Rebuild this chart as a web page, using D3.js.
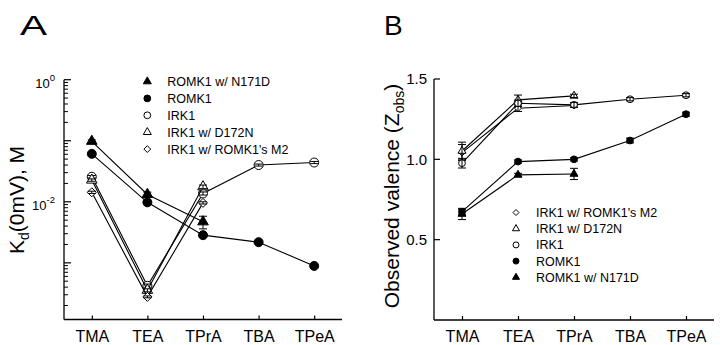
<!DOCTYPE html>
<html>
<head>
<meta charset="utf-8">
<script src="https://cdnjs.cloudflare.com/ajax/libs/d3/7.8.5/d3.min.js"></script>
<style>
  body { margin: 0; background: #fff; }
  svg text { font-family: Arial, "Liberation Sans", sans-serif; fill: #000; }
</style>
</head>
<body>
<div id="chart"></div>
<script>
// blockers along the x axis
var categories = ["TMA", "TEA", "TPrA", "TBA", "TPeA"];

// panel A: Kd(0mV) in M
var kdN171D = [0.098, 0.0132, 0.0047, null, null];
var kdROMK1 = [0.061, 0.0098, 0.00284, 0.00218, 0.00089];
var kdIRK1  = [0.0257, 0.00042, 0.0137, 0.040, 0.044];
var kdD172N = [0.0227, 0.000355, 0.0176, null, null];
var kdM2    = [0.0143, 0.000277, 0.0096, null, null];
var kdN171DErr = [0.005, 0.0012, 0.0011, null, null];
var kdROMK1Err = [0.002, 0.0007, 0.0002, 0.0001, 0.00004];
var kdIRK1Err  = [0.0012, 0.00003, 0.0008, 0.0015, 0.0018];
var kdD172NErr = [0.0010, 0.00002, 0.0012, null, null];
var kdM2Err    = [0.0006, 0.00001, 0.0004, null, null];

// panel B: observed valence
var zM2    = [1.042, 1.318, 1.335, null, null];
var zD172N = [1.052, 1.370, 1.395, null, null];
var zIRK1  = [0.976, 1.349, 1.339, 1.374, 1.399];
var zROMK1 = [0.674, 0.986, 1.000, 1.117, 1.281];
var zN171D = [0.660, 0.903, 0.909, null, null];
var zM2Err    = [0.050, 0.020, 0.010, null, null];
var zD172NErr = [0.055, 0.030, 0.010, null, null];
var zIRK1Err  = [0.030, 0.020, 0.015, 0.010, 0.010];
var zROMK1Err = [0.015, 0.010, 0.010, 0.015, 0.012];
var zN171DErr = [0.035, 0.010, 0.035, null, null];

var kdTicksMajor = [1, 0.1, 0.01, 0.001];
var kdTickLabels = [{v: 1, exp: "0"}, {v: 0.01, exp: "-2"}];
var zTicks = [0.5, 1.0, 1.5];

var svg = d3.select("#chart").append("svg")
    .attr("width", 720)
    .attr("height", 345);

// marker shapes
function markerPath(kind, size) {
  if (kind == "circle") return d3.symbol(d3.symbolCircle, size * size * Math.PI)();
  if (kind == "triangle") return d3.symbol(d3.symbolTriangle, size * size * 2.4)();
  // diamond = square turned 45 degrees
  var s = size;
  return "M0," + (-s) + "L" + s + ",0L0," + s + "L" + (-s) + ",0Z";
}

function drawPanel(cfg) {
  var g = svg.append("g");
  var x = d3.scalePoint().domain(categories).range([cfg.x0, cfg.x1]).padding(0.5);
  var y = cfg.y;

  // axes lines
  g.append("line").attr("x1", cfg.x0).attr("x2", cfg.x0)
    .attr("y1", cfg.yTop).attr("y2", cfg.yBot)
    .attr("stroke", "#000").attr("stroke-width", 1.3);
  g.append("line").attr("x1", cfg.x0).attr("x2", cfg.x1)
    .attr("y1", cfg.yBot).attr("y2", cfg.yBot)
    .attr("stroke", "#000").attr("stroke-width", 1.3);

  // x ticks point inward
  var xAxis = g.append("g")
    .attr("transform", "translate(0," + cfg.yBot + ")")
    .call(d3.axisBottom(x).tickSize(-4).tickSizeOuter(0).tickPadding(10));
  xAxis.select(".domain").remove();
  xAxis.selectAll("line").attr("stroke-width", 1.2);
  xAxis.selectAll("text").attr("font-size", 16).attr("dy", "0.75em")
    .style("font-family", "Arial, 'Liberation Sans', sans-serif");

  cfg.yAxis(g);

  // series
  cfg.series.forEach(function(s) {
    var pts = s.values.map(function(v, i) {
      return {cat: categories[i], v: v, e: s.err[i]};
    }).filter(function(d) { return d.v != null; });

    g.append("path")
      .datum(pts)
      .attr("fill", "none")
      .attr("stroke", "#000")
      .attr("stroke-width", 1.1)
      .attr("d", d3.line().x(function(d) { return x(d.cat); })
                          .y(function(d) { return y(d.v); }));

    g.selectAll(null).data(pts).enter().append("path")
      .attr("transform", function(d) { return "translate(" + x(d.cat) + "," + y(d.v) + ")"; })
      .attr("d", markerPath(s.shape, cfg.markSize))
      .attr("fill", s.filled ? "#000" : "#fff")
      .attr("stroke", "#000")
      .attr("stroke-width", 1);

    // error bars on top of the markers
    var eb = g.selectAll(null).data(pts.filter(function(d) { return d.e; })).enter().append("g")
      .attr("stroke", "#000").attr("stroke-width", 1);
    eb.append("line")
      .attr("x1", function(d) { return x(d.cat); }).attr("x2", function(d) { return x(d.cat); })
      .attr("y1", function(d) { return y(d.v + d.e); }).attr("y2", function(d) { return y(d.v - d.e); });
    [1, -1].forEach(function(sign) {
      eb.append("line")
        .attr("x1", function(d) { return x(d.cat) - 4; }).attr("x2", function(d) { return x(d.cat) + 4; })
        .attr("y1", function(d) { return y(d.v + sign * d.e); })
        .attr("y2", function(d) { return y(d.v + sign * d.e); });
    });
  });

  // legend
  var leg = g.append("g");
  cfg.legendOrder.forEach(function(s, i) {
    var ly = cfg.legY + i * cfg.legStep;
    leg.append("path")
      .attr("transform", "translate(" + cfg.legX + "," + ly + ")")
      .attr("d", markerPath(s.shape, cfg.legMark))
      .attr("fill", s.filled ? "#000" : "#fff")
      .attr("stroke", "#000").attr("stroke-width", 1);
    leg.append("text")
      .attr("x", cfg.legX + 20).attr("y", ly)
      .attr("dy", "0.36em")
      .attr("font-size", 12.5)
      .text(s.name);
  });

  // panel letter
  g.append("text")
    .attr("transform", "translate(" + cfg.letterX + ",35) scale(" + cfg.letterScale + ",1)")
    .attr("font-size", 28).text(cfg.letter);
}

// ---- panel A (log scale)
var yA = d3.scaleLog().domain([1.18e-4, 1]).range([319.5, 79.7]);
var seriesA = {
  n171d: {name: "ROMK1 w/ N171D", shape: "triangle", filled: true, values: kdN171D, err: kdN171DErr},
  romk1: {name: "ROMK1", shape: "circle", filled: true, values: kdROMK1, err: kdROMK1Err},
  irk1:  {name: "IRK1", shape: "circle", filled: false, values: kdIRK1, err: kdIRK1Err},
  d172n: {name: "IRK1 w/ D172N", shape: "triangle", filled: false, values: kdD172N, err: kdD172NErr},
  m2:    {name: "IRK1 w/ ROMK1's M2", shape: "diamond", filled: false, values: kdM2, err: kdM2Err}
};

drawPanel({
  letter: "A", letterX: 20, letterScale: 1.45,
  x0: 64, x1: 342, yTop: 79.7, yBot: 319.5,
  y: yA, markSize: 4.5,
  series: [seriesA.irk1, seriesA.d172n, seriesA.m2, seriesA.romk1, seriesA.n171d],
  legendOrder: [seriesA.n171d, seriesA.romk1, seriesA.irk1, seriesA.d172n, seriesA.m2],
  legX: 147.3, legY: 81.5, legStep: 16.9, legMark: 3.4,
  yAxis: function(g) {
    var minor = [];
    [1e-4, 1e-3, 1e-2, 1e-1].forEach(function(d) {
      for (var k = 2; k <= 9; k++) minor.push(d * k);
    });
    minor = minor.filter(function(v) { return v >= yA.domain()[0]; });
    g.selectAll(null).data(minor).enter().append("line")
      .attr("x1", 64).attr("x2", 68)
      .attr("y1", function(d) { return yA(d); }).attr("y2", function(d) { return yA(d); })
      .attr("stroke", "#000").attr("stroke-width", 1);
    g.selectAll(null).data(kdTicksMajor).enter().append("line")
      .attr("x1", 64).attr("x2", 71)
      .attr("y1", function(d) { return yA(d); }).attr("y2", function(d) { return yA(d); })
      .attr("stroke", "#000").attr("stroke-width", 1.2);
    var lab = g.selectAll(null).data(kdTickLabels).enter().append("text")
      .attr("x", 55).attr("y", function(d) { return yA(d.v) + 8; })
      .attr("text-anchor", "end").attr("font-size", 13);
    lab.append("tspan").text("10");
    lab.append("tspan").attr("dy", -7).attr("font-size", 9.5).text(function(d) { return d.exp; });

    var t = g.append("text")
      .attr("transform", "translate(24,200) rotate(-90)")
      .attr("text-anchor", "middle").attr("font-size", 21);
    t.append("tspan").text("K");
    t.append("tspan").attr("dy", 5).attr("font-size", 14).text("d");
    t.append("tspan").attr("dy", -5).text("(0mV), M");
  }
});

// ---- panel B (linear)
var yB = d3.scaleLinear().domain([0, 1.5]).range([320, 79]);
var seriesB = {
  m2:    {name: "IRK1 w/ ROMK1's M2", shape: "diamond", filled: false, values: zM2, err: zM2Err},
  d172n: {name: "IRK1 w/ D172N", shape: "triangle", filled: false, values: zD172N, err: zD172NErr},
  irk1:  {name: "IRK1", shape: "circle", filled: false, values: zIRK1, err: zIRK1Err},
  romk1: {name: "ROMK1", shape: "circle", filled: true, values: zROMK1, err: zROMK1Err},
  n171d: {name: "ROMK1 w/ N171D", shape: "triangle", filled: true, values: zN171D, err: zN171DErr}
};

drawPanel({
  letter: "B", letterX: 384, letterScale: 1,
  x0: 434, x1: 714, yTop: 79, yBot: 320,
  y: yB, markSize: 3.4,
  series: [seriesB.m2, seriesB.d172n, seriesB.irk1, seriesB.n171d, seriesB.romk1],
  legendOrder: [seriesB.m2, seriesB.d172n, seriesB.irk1, seriesB.romk1, seriesB.n171d],
  legX: 516, legY: 212.5, legStep: 16.2, legMark: 3,
  yAxis: function(g) {
    g.selectAll(null).data(zTicks).enter().append("line")
      .attr("x1", 434).attr("x2", 440)
      .attr("y1", function(d) { return yB(d); }).attr("y2", function(d) { return yB(d); })
      .attr("stroke", "#000").attr("stroke-width", 1.2);
    g.selectAll(null).data(zTicks).enter().append("text")
      .attr("x", 427).attr("y", function(d) { return yB(d); })
      .attr("dy", "0.36em")
      .attr("text-anchor", "end").attr("font-size", 15)
      .text(function(d) { return d3.format(".1f")(d); });

    var t = g.append("text")
      .attr("transform", "translate(399,196) rotate(-90)")
      .attr("text-anchor", "middle").attr("font-size", 21);
    t.append("tspan").text("Observed valence (Z");
    t.append("tspan").attr("dy", 5).attr("font-size", 14).text("obs");
    t.append("tspan").attr("dy", -5).text(")");
  }
});
</script>
</body>
</html>
